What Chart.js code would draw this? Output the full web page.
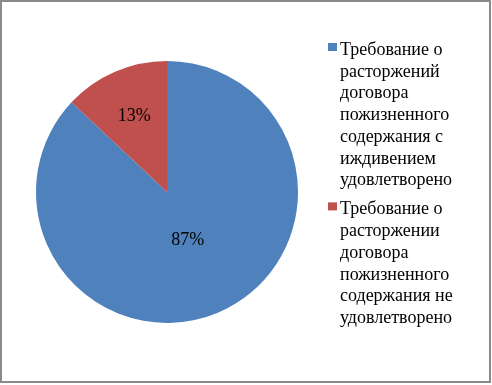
<!DOCTYPE html>
<html>
<head>
<meta charset="utf-8">
<script src="https://cdn.jsdelivr.net/npm/chart.js@4.4.1/dist/chart.umd.min.js"></script>
<style>
  body { margin: 0; background: #fff; }
  #wrap { position: relative; width: 492px; height: 385px; }
  #frame {
    position: absolute; left: 0; top: 0; width: 491px; height: 383px;
    box-sizing: border-box; border: 2px solid #8a8a8a; pointer-events: none;
  }
</style>
</head>
<body>
<div id="wrap">
  <canvas id="pieChart"></canvas>
  <div id="frame"></div>
</div>
<script>
const categories = [
  'Требование о расторжений договора пожизненного содержания с иждивением удовлетворено',
  'Требование о расторжении договора пожизненного содержания не удовлетворено'
]
const shares = [87, 13]
const sliceColors = ['#4F81BD', '#C0504D']

const fontFamily = '"Liberation Serif", "Times New Roman", serif'

// подписи процентов внутри секторов
const sliceLabels = {
  id: 'sliceLabels',
  afterDatasetsDraw(chart) {
    const ctx = chart.ctx
    const meta = chart.getDatasetMeta(0)
    const radiusFrac = [0.4, 0.63]
    ctx.save()
    ctx.font = '18px ' + fontFamily
    ctx.fillStyle = '#000'
    ctx.textAlign = 'center'
    ctx.textBaseline = 'middle'
    meta.data.forEach((arc, i) => {
      const mid = (arc.startAngle + arc.endAngle) / 2
      const r = arc.outerRadius * radiusFrac[i]
      ctx.fillText(shares[i] + '%', arc.x + Math.cos(mid) * r, arc.y + Math.sin(mid) * r)
    })
    ctx.restore()
  }
}

// легенда справа с переносом строк
const wrappedLegend = {
  id: 'wrappedLegend',
  afterDraw(chart) {
    const ctx = chart.ctx
    const x = 340
    const lineHeight = 21.7
    const maxWidth = 125
    let y = 55
    ctx.save()
    ctx.font = '18px ' + fontFamily
    ctx.textBaseline = 'alphabetic'
    ctx.textAlign = 'left'
    categories.forEach((label, i) => {
      const words = label.split(' ')
      const lines = []
      let line = ''
      words.forEach(w => {
        const test = line ? line + ' ' + w : w
        if (ctx.measureText(test).width > maxWidth && line) {
          lines.push(line)
          line = w
        } else {
          line = test
        }
      })
      lines.push(line)

      ctx.fillStyle = sliceColors[i]
      ctx.fillRect(328, y - 12, 9, 8)
      ctx.fillStyle = '#000'
      lines.forEach((l, k) => ctx.fillText(l, x, y + k * lineHeight))
      y += lines.length * lineHeight + 7.5
    })
    ctx.restore()
  }
}

new Chart(document.getElementById('pieChart'), {
  type: 'pie',
  data: {
    labels: categories,
    datasets: [{
      data: shares,
      backgroundColor: sliceColors,
      borderWidth: 0
    }]
  },
  options: {
    responsive: true,
    maintainAspectRatio: false,
    animation: false,
    layout: {
      padding: { left: 36, right: 194, top: 61, bottom: 62 }
    },
    plugins: {
      legend: { display: false },
      tooltip: { enabled: false }
    }
  },
  plugins: [sliceLabels, wrappedLegend]
})
</script>
</body>
</html>
